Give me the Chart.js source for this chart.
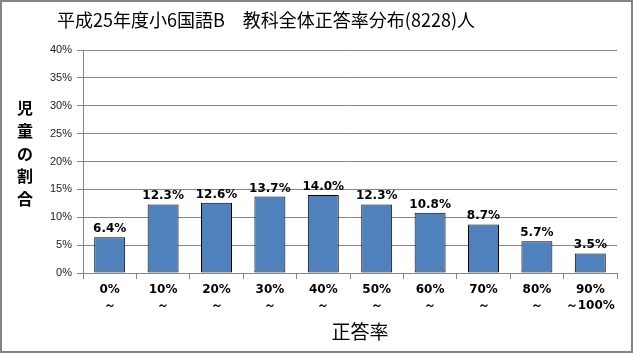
<!DOCTYPE html>
<html>
<head>
<meta charset="utf-8">
<script src="https://cdn.jsdelivr.net/npm/chart.js@4.4.0/dist/chart.umd.min.js"></script>
<style>
  html, body { margin: 0; padding: 0; background: #fff; }
  canvas { display: block; }
</style>
</head>
<body>
<canvas id="distChart" width="633" height="353"></canvas>
<script>
// 正答率分布データ
var rangeLabels = [['0%', '～'], ['10%', '～'], ['20%', '～'], ['30%', '～'], ['40%', '～'],
                   ['50%', '～'], ['60%', '～'], ['70%', '～'], ['80%', '～'], ['90%', '～100%']];
var shareValues = [6.4, 12.3, 12.6, 13.7, 14.0, 12.3, 10.8, 8.7, 5.7, 3.5];
var yTicks = [0, 5, 10, 15, 20, 25, 30, 35, 40];
var chartTitle = '平成25年度小6国語B　教科全体正答率分布(8228)人';
var yTitle = '児童の割合';
var xTitle = '正答率';

var jpFont = '"Noto Sans CJK JP", sans-serif';

// frame, title, axis titles and value labels
var decorPlugin = {
    id: 'decor',
    afterDraw: function (chart) {
        var ctx = chart.ctx;
        ctx.save();
        // outer border
        ctx.strokeStyle = '#848484';
        ctx.lineWidth = 2;
        ctx.strokeRect(1, 1, chart.width - 2, chart.height - 2);

        // title
        ctx.fillStyle = '#000';
        ctx.textAlign = 'center';
        ctx.textBaseline = 'middle';
        ctx.font = '18px ' + jpFont;
        ctx.fillText(chartTitle, 266, 20);

        // y title, stacked vertically
        ctx.font = 'bold 16px ' + jpFont;
        for (var i = 0; i < yTitle.length; i++) {
            ctx.fillText(yTitle[i], 25, 108 + i * 22.8);
        }

        // x title
        ctx.font = '19px ' + jpFont;
        ctx.fillText(xTitle, 360, 332);

        // value labels
        var meta = chart.getDatasetMeta(0);
        ctx.font = 'bold 12px "DejaVu Sans", sans-serif';
        ctx.textBaseline = 'alphabetic';
        meta.data.forEach(function (bar, idx) {
            ctx.fillText(shareValues[idx].toFixed(1) + '%', bar.x, bar.y - 5);
        });
        ctx.restore();
    }
};

var ctx = document.getElementById('distChart').getContext('2d');
new Chart(ctx, {
    type: 'bar',
    data: {
        labels: rangeLabels,
        datasets: [{
            data: shareValues,
            backgroundColor: '#4F81BD',
            borderColor: '#000',
            borderWidth: 1,
            borderSkipped: false,
            barPercentage: 0.58,
            categoryPercentage: 1.0
        }]
    },
    options: {
        responsive: false,
        animation: false,
        layout: { padding: { top: 50, right: 16, left: 0, bottom: 0 } },
        plugins: {
            legend: { display: false },
            title: { display: false },
            tooltip: { enabled: false }
        },
        scales: {
            x: {
                afterFit: function (s) { s.height = 80; },
                grid: { display: true, drawOnChartArea: false, offset: true, tickLength: 6, color: '#868686' },
                border: { color: '#868686' },
                ticks: {
                    color: '#000',
                    font: { family: '"DejaVu Sans", sans-serif', size: 12, weight: 'bold', lineHeight: 1.35 },
                    padding: 3,
                    maxRotation: 0,
                    autoSkip: false
                }
            },
            y: {
                min: 0,
                max: 40,
                afterFit: function (s) { s.width = 83; },
                afterBuildTicks: function (s) {
                    s.ticks = yTicks.map(function (v) { return { value: v }; });
                },
                grid: { color: '#868686', tickLength: 6 },
                border: { color: '#868686' },
                ticks: {
                    color: '#222',
                    font: { family: '"Liberation Sans", sans-serif', size: 11 },
                    padding: 5,
                    callback: function (v) { return v + '%'; }
                }
            }
        }
    },
    plugins: [decorPlugin]
});
</script>
</body>
</html>
